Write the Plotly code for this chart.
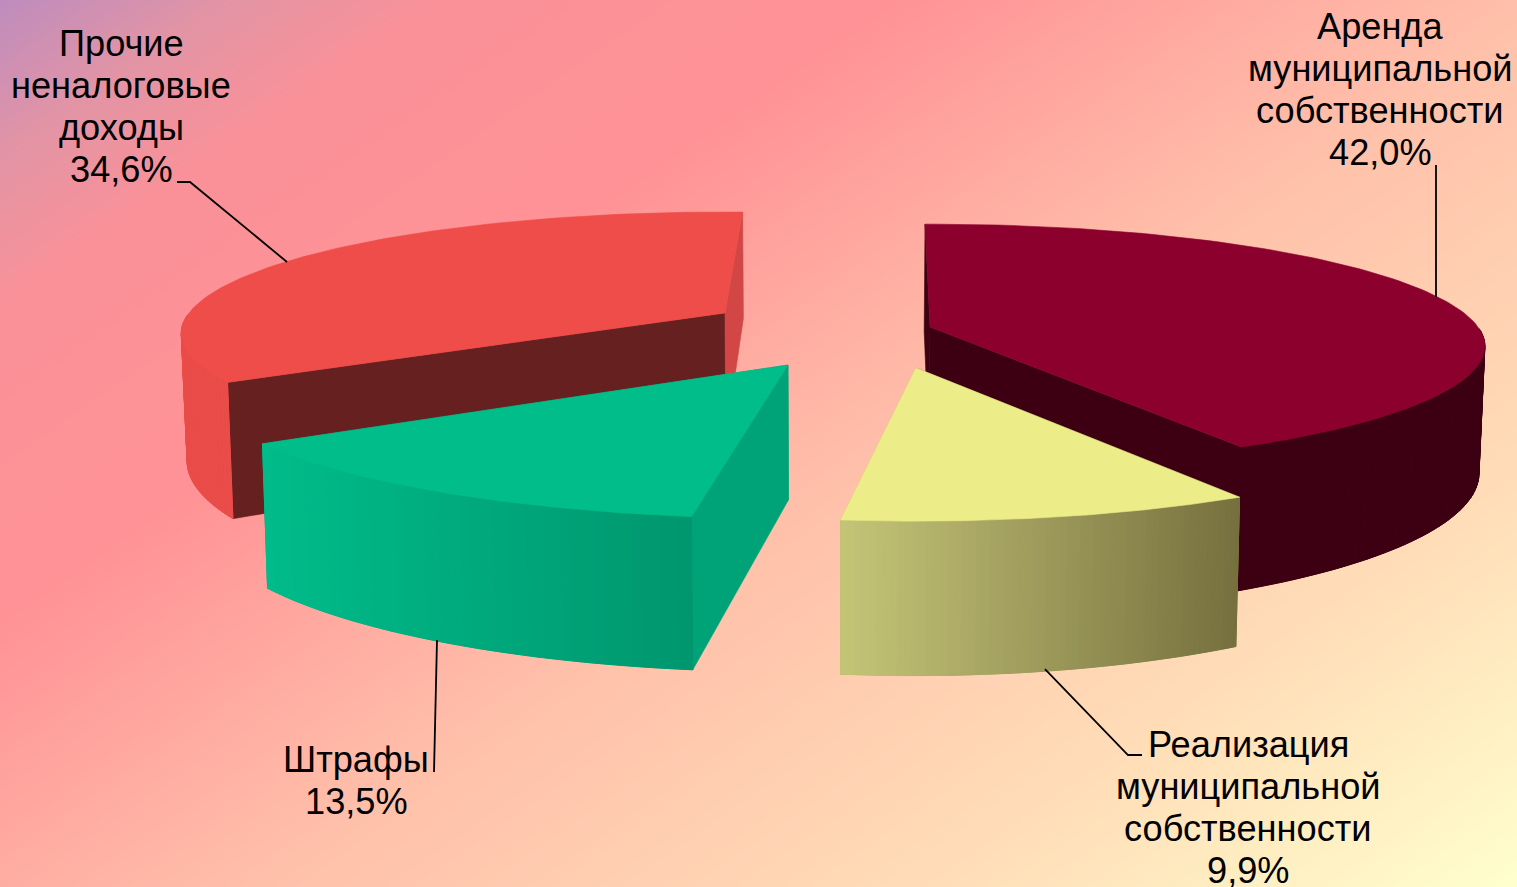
import math
import numpy as np
import plotly.graph_objects as go

W, H = 1517, 887

# ---- data ----
categories = ["Аренда\nмуниципальной\nсобственности", "Реализация\nмуниципальной\nсобственности", "Штрафы", "Прочие\nненалоговые\nдоходы"]
values = [42.0, 9.9, 13.5, 34.6]
value_labels = ["42,0%", "9,9%", "13,5%", "34,6%"]

# ---- geometry of the 3-D projection, per slice ----
apex_x = [930, 916, 788, 725]
apex_y = [327, 368, 365, 313]
radius_x = [548, 540, 586, 536]
radius_y = [119, 121, 135, 118]
persp = [0.157, 0.21, 0.12, 0.168]
rot_deg = [-0.6, -0.5, 1.5, 2.2]
depth = [124, 122, 135, 124]
BOTTOM_SCALE = 0.991
BOTTOM_X0 = 830

# ---- styles ----
top_col = [(140, 0, 45), (236, 236, 136), (0, 189, 138), (238, 77, 74)]
wall_left = [(60, 0, 18), (197, 197, 120), (0, 188, 138), (233, 76, 73)]
wall_right = [(60, 0, 18), (118, 112, 62), (0, 150, 110), (233, 76, 73)]
start_wall = [(60, 0, 18), (120, 115, 65), (0, 163, 120), (102, 32, 32)]
end_wall = [(60, 0, 18), (190, 190, 115), (0, 163, 120), (210, 70, 70)]

def rgb(c):
    return "rgb(%d,%d,%d)" % tuple(int(round(v)) for v in c)

def project(i, t, r=1.0, bottom=False):
    u, v = r * math.sin(t), r * math.cos(t)
    w = 1 + persp[i] * v
    x = apex_x[i] + radius_x[i] * u / w
    y = apex_y[i] - radius_y[i] * v / w
    if bottom:
        y += depth[i] / w
        x = BOTTOM_X0 + (x - BOTTOM_X0) * BOTTOM_SCALE
    return x, y

fig = go.Figure()

# background gradient
gx = np.linspace(0, W, 64)
gy = np.linspace(0, H, 40)
gz = [[(0.694 * x + y) / (0.694 * W + H) for x in gx] for y in gy]
fig.add_trace(go.Heatmap(
    x=gx, y=gy, z=gz, zmin=0, zmax=1, zsmooth="best", showscale=False, hoverinfo="skip",
    colorscale=[[0, "rgb(190,140,190)"], [0.08, "rgb(226,148,165)"], [0.16, "rgb(250,145,152)"],
                [0.32, "rgb(255,146,150)"], [0.55, "rgb(255,192,170)"], [0.8, "rgb(255,222,184)"],
                [1, "rgb(255,255,205)"]]))

def poly(pts, color, lw=0.6):
    xs = [p[0] for p in pts] + [pts[0][0]]
    ys = [p[1] for p in pts] + [pts[0][1]]
    fig.add_trace(go.Scatter(x=xs, y=ys, mode="lines", fill="toself", fillcolor=rgb(color),
                             line=dict(color=rgb(color), width=lw), hoverinfo="skip", showlegend=False))

cum = np.cumsum([0] + values) / sum(values) * 2 * math.pi
draw_order = [3, 0, 1, 2]
for i in draw_order:
    t0 = cum[i] + math.radians(rot_deg[i])
    t1 = cum[i + 1] + math.radians(rot_deg[i])
    ts = np.linspace(t0, t1, 120)
    a_top, a_bot = project(i, 0, 0), project(i, 0, 0, True)
    s_top, s_bot = project(i, t0), project(i, t0, 1, True)
    e_top, e_bot = project(i, t1), project(i, t1, 1, True)
    poly([a_top, s_top, s_bot, a_bot], start_wall[i])
    poly([a_top, e_top, e_bot, a_bot], end_wall[i])
    # outer curved wall (camera-facing part only), shaded by screen x
    tops_all = [project(i, t) for t in ts]
    front = [t for t in ts if math.cos(t) <= 0.0]
    tops = [project(i, t) for t in front]
    bots = [project(i, t, 1, True) for t in front]
    xs_all = [p[0] for p in tops]
    lo, hi = min(xs_all), max(xs_all)
    mean_col = [(a + b) / 2 for a, b in zip(wall_left[i], wall_right[i])]
    poly(tops + bots[::-1], mean_col)
    nstrip = 60
    idx = np.linspace(0, len(front) - 1, nstrip + 1).astype(int)
    for k in range(nstrip):
        a, b = idx[k], idx[k + 1]
        if a == b:
            continue
        f = ((tops[a][0] + tops[b][0]) / 2 - lo) / (hi - lo)
        col = [p + (q - p) * f for p, q in zip(wall_left[i], wall_right[i])]
        poly(tops[a:b + 1] + bots[a:b + 1][::-1], col, lw=1.0)
    poly([a_top] + tops_all, top_col[i])

# leader lines
leaders = [
    ([1436, 1436], [165, 297]),
    ([1045, 1128, 1142], [669, 755, 755]),
    ([437, 434], [640, 772]),
    ([177, 190, 287], [182, 182, 262]),
]
for lx, ly in leaders:
    fig.add_trace(go.Scatter(x=lx, y=ly, mode="lines", line=dict(color="black", width=1.8),
                             hoverinfo="skip", showlegend=False))

# labels: one annotation per line for exact line pitch
label_x = [1380, 1248, 356, 121]
label_y0 = [26, 744, 759, 43]
PITCH = 42
for i, cat in enumerate(categories):
    lines = cat.split("\n") + [value_labels[i]]
    for j, s in enumerate(lines):
        fig.add_annotation(x=label_x[i], y=label_y0[i] + j * PITCH, text=s, showarrow=False,
                           xanchor="center", yanchor="middle",
                           font=dict(family="Liberation Sans", size=36.2, color="black"))

fig.update_layout(
    width=W, height=H, margin=dict(l=0, r=0, t=0, b=0), showlegend=False,
    paper_bgcolor="rgb(255,200,175)", plot_bgcolor="rgba(0,0,0,0)",
    xaxis=dict(range=[0, W], visible=False, fixedrange=True),
    yaxis=dict(range=[H, 0], visible=False, fixedrange=True),
)
fig.write_html("out.html", config={"displayModeBar": False},
               post_script="document.body.style.margin='0';document.body.style.overflow='hidden';")
